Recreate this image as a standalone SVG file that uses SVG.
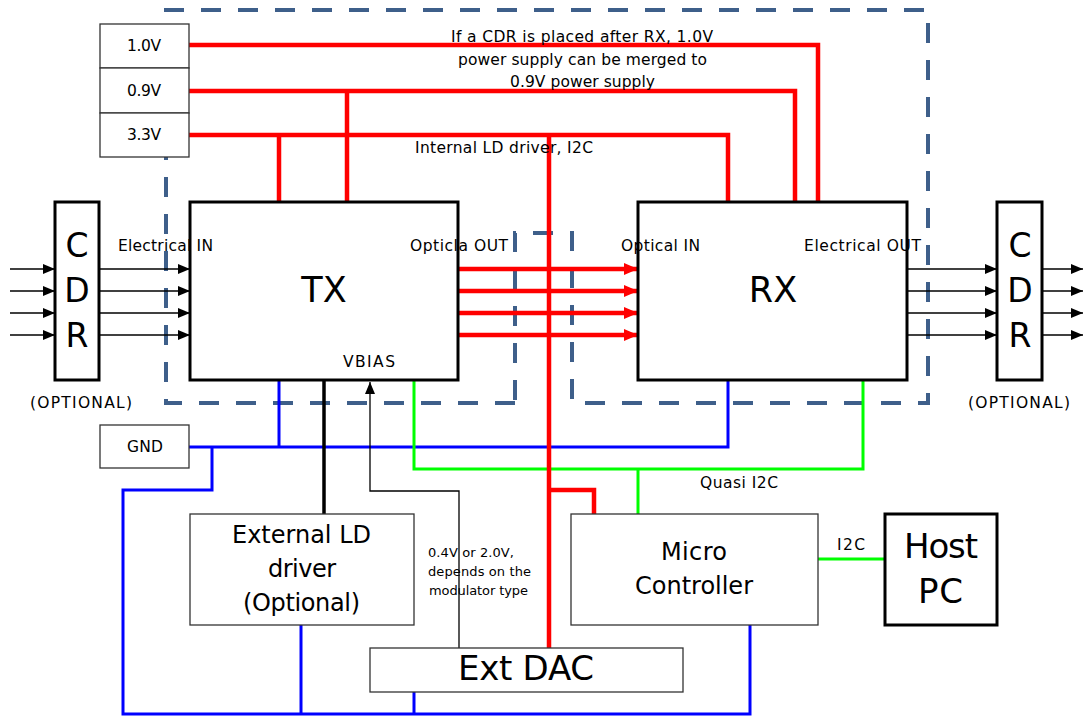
<svg xmlns="http://www.w3.org/2000/svg" width="1083" height="716" viewBox="0 0 1083 716">
<defs>
<style>
text{font-family:"DejaVu Sans","Noto Sans CJK JP",sans-serif;fill:#000}
.box{fill:#fff;stroke:#333;stroke-width:1.3}
.tbox{fill:#fff;stroke:#000;stroke-width:3}
.red{fill:none;stroke:#ff0000;stroke-width:4.5}
.blue{fill:none;stroke:#0000ff;stroke-width:3}
.green{fill:none;stroke:#00ff00;stroke-width:3}
.blk{fill:none;stroke:#000;stroke-width:1.3}
.dash{fill:none;stroke:#3e5f8a;stroke-width:4;stroke-dasharray:20 17}
.s14{font-size:15.5px}
.s13{font-size:13px}
</style>
<marker id="ab" markerWidth="12" markerHeight="10" refX="12" refY="5" orient="auto" markerUnits="userSpaceOnUse"><path d="M0,0 L12,5 L0,10 Z" fill="#000"/></marker>
<marker id="ar" markerWidth="14" markerHeight="12" refX="14" refY="6" orient="auto" markerUnits="userSpaceOnUse"><path d="M0,0 L14,6 L0,12 Z" fill="#ff0000"/></marker>
</defs>
<rect width="1083" height="716" fill="#fff"/>
<path class="dash" d="M515,403 L166,403 L166,10 L928,10 L928,403 L572,403 L572,233 L515,233 Z"/>
<g id="connectors">
<path class="red" d="M189,45 H818 V202"/>
<path class="red" d="M189,91 H795 V202"/>
<path class="red" d="M347,91 V202"/>
<path class="red" d="M189,135 H728 V202"/>
<path class="red" d="M279,135 V202"/>
<path class="blue" d="M189,447 H728 V380"/>
<path class="blue" d="M279,447 V380"/>
<path class="blue" d="M212,447 V490 H123 V714 H750 V625"/>
<path class="blue" d="M301,714 V625"/>
<path class="blue" d="M414,714 V692"/>
<path d="M324,380 V514" fill="none" stroke="#000" stroke-width="3.5"/>
<path class="blk" d="M459,648 V491 H370 V382" marker-end="url(#ab)"/>
<path class="green" d="M414,380 V469 H863 V380"/>
<path class="green" d="M638,469 V514"/>
<path class="green" d="M818,559 H885"/>
<path class="red" d="M549,135 V648"/>
<path class="red" d="M549,490 H594 V514"/>
<g class="red">
<path d="M458,269 H638" marker-end="url(#ar)"/>
<path d="M458,291 H638" marker-end="url(#ar)"/>
<path d="M458,313 H638" marker-end="url(#ar)"/>
<path d="M458,335 H638" marker-end="url(#ar)"/>
</g>
<g class="blk">
<path d="M10,269 H55" marker-end="url(#ab)"/>
<path d="M10,291 H55" marker-end="url(#ab)"/>
<path d="M10,313 H55" marker-end="url(#ab)"/>
<path d="M10,335 H55" marker-end="url(#ab)"/>
<path d="M99,269 H190" marker-end="url(#ab)"/>
<path d="M99,291 H190" marker-end="url(#ab)"/>
<path d="M99,313 H190" marker-end="url(#ab)"/>
<path d="M99,335 H190" marker-end="url(#ab)"/>
<path d="M907,269 H997" marker-end="url(#ab)"/>
<path d="M907,291 H997" marker-end="url(#ab)"/>
<path d="M907,313 H997" marker-end="url(#ab)"/>
<path d="M907,335 H997" marker-end="url(#ab)"/>
<path d="M1042,269 H1083" marker-end="url(#ab)"/>
<path d="M1042,291 H1083" marker-end="url(#ab)"/>
<path d="M1042,313 H1083" marker-end="url(#ab)"/>
<path d="M1042,335 H1083" marker-end="url(#ab)"/>
</g>
</g>
<g id="v10"><rect class="box" x="100" y="24" width="89" height="44"/><text class="s14" x="127" y="51" textLength="34">1.0V</text></g>
<g id="v09"><rect class="box" x="100" y="68" width="89" height="45"/><text class="s14" x="127" y="96" textLength="34">0.9V</text></g>
<g id="v33"><rect class="box" x="100" y="113" width="89" height="44"/><text class="s14" x="127" y="140" textLength="34">3.3V</text></g>
<g id="gnd"><rect class="box" x="100" y="425" width="89" height="43"/><text class="s14" x="127" y="452" textLength="36">GND</text></g>
<g id="cdr-left"><rect class="tbox" x="55" y="202" width="44" height="178"/>
<text text-anchor="middle" x="77" y="257" font-size="33">C</text><text text-anchor="middle" x="77" y="302" font-size="33">D</text><text text-anchor="middle" x="77" y="347" font-size="33">R</text>
<text class="s14" x="30" y="408" textLength="102">(OPTIONAL)</text></g>
<g id="cdr-right"><rect class="tbox" x="997" y="202" width="45" height="178"/>
<text text-anchor="middle" x="1020" y="257" font-size="33">C</text><text text-anchor="middle" x="1020" y="302" font-size="33">D</text><text text-anchor="middle" x="1020" y="347" font-size="33">R</text>
<text class="s14" x="968" y="408" textLength="102">(OPTIONAL)</text></g>
<g id="tx"><rect class="tbox" x="190" y="202" width="268" height="178" fill-opacity="0"/>
<text text-anchor="middle" x="324" y="302" font-size="35">TX</text>
<text class="s14" x="118" y="251" textLength="95">Electrical IN</text>
<text class="s14" x="410" y="251" textLength="98">Opticla OUT</text>
<text class="s14" x="343" y="367" textLength="52">VBIAS</text></g>
<g id="rx"><rect class="tbox" x="638" y="202" width="269" height="178" fill-opacity="0"/>
<text text-anchor="middle" x="773" y="302" font-size="35">RX</text>
<text class="s14" x="621" y="251" textLength="79">Optical IN</text>
<text class="s14" x="804" y="251" textLength="117">Electrical OUT</text></g>
<g id="ext-ld"><rect class="box" x="190" y="514" width="224" height="111"/>
<text x="232" y="543" font-size="24" textLength="139">External LD</text>
<text x="268" y="577" font-size="24" textLength="68">driver</text>
<text x="243" y="611" font-size="24" textLength="117">(Optional)</text></g>
<g id="micro"><rect class="box" x="571" y="514" width="247" height="111"/>
<text x="661" y="560" font-size="24" textLength="66">Micro</text>
<text x="635" y="594" font-size="24" textLength="118">Controller</text></g>
<g id="host"><rect class="tbox" x="885" y="514" width="112" height="111"/>
<text x="904" y="558" font-size="34" textLength="74">Host</text>
<text x="918" y="603" font-size="34" textLength="45">PC</text></g>
<g id="ext-dac"><rect class="box" x="370" y="648" width="313" height="44"/>
<text x="458" y="680" font-size="34" textLength="136">Ext DAC</text></g>
<g id="labels">
<text class="s14" x="451" y="42" textLength="262">If a CDR is placed after RX, 1.0V</text>
<text class="s14" x="458" y="65" textLength="249">power supply can be merged to</text>
<text class="s14" x="510" y="87" textLength="145">0.9V power supply</text>
<text class="s14" x="415" y="153" textLength="178">Internal LD driver, I2C</text>
<text class="s14" x="700" y="488" textLength="78">Quasi I2C</text>
<text class="s14" x="837" y="550" textLength="28">I2C</text>
<text class="s13" x="428" y="557" textLength="86">0.4V or 2.0V,</text>
<text class="s13" x="428" y="576" textLength="103">depends on the</text>
<text class="s13" x="429" y="595" textLength="99">modulator type</text>
</g>
</svg>
